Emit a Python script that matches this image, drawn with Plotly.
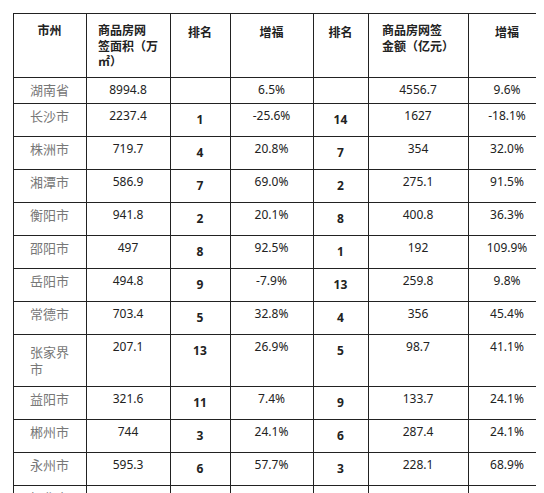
import plotly.graph_objects as go

cities = ["湖南省","长沙市","株洲市","湘潭市","衡阳市","邵阳市","岳阳市","常德市","张家界<br>市","益阳市","郴州市","永州市","怀化市","娄底市","湘西州"]
area = ["8994.8","2237.4","719.7","586.9","941.8","497","494.8","703.4","207.1","321.6","744","595.3","494.6","261.5","189.6"]
area_rank = ["","1","4","7","2","8","9","5","13","11","3","6","10","12","14"]
area_growth = ["6.5%","-25.6%","20.8%","69.0%","20.1%","92.5%","-7.9%","32.8%","26.9%","7.4%","24.1%","57.7%","0.2%","1.1%","-0.3%"]
amt_rank = ["","14","7","2","8","1","13","4","5","9","6","3","11","10","12"]
amount = ["4556.7","1627","354","275.1","400.8","192","259.8","356","98.7","133.7","287.4","228.1","183","91.1","70.1"]
amt_growth = ["9.6%","-18.1%","32.0%","91.5%","36.3%","109.9%","9.8%","45.4%","41.1%","24.1%","24.1%","68.9%","-2.0%","-4.2%","10.0%"]
headers = ["<br>市州","商品房网<br>签面积（万<br>㎡）","<br>排名","<br>增福","<br>排名","商品房网签<br>金额（亿元）","<br>增福"]

def bold(lst):
    return ["<b>%s</b>" % v if v else "" for v in lst]

fig = go.Figure(go.Table(
    columnwidth=[73,84,60,83,55,100,78],
    domain=dict(x=[5/544, 538/544], y=[0, 1-5/493]),
    header=dict(values=["<b>%s</b>" % h for h in headers],
                line=dict(color="#222", width=1), fill=dict(color="white"),
                align="center", height=52,
                font=dict(family="Noto Sans CJK SC", size=12, color="#222")),
    cells=dict(values=[cities, area, bold(area_rank), area_growth, bold(amt_rank), amount, amt_growth],
               line=dict(color="#222", width=1), fill=dict(color="white"),
               align="center", height=26,
               font=dict(family=["Noto Sans CJK SC","Noto Sans","Noto Sans","Noto Sans","Noto Sans","Noto Sans","Noto Sans"],
                         size=[13,12,12,12,12,12,12],
                         color=["#777","#222","#222","#222","#222","#222","#222"])),
))
fig.update_layout(width=544, height=493, margin=dict(l=0,r=0,t=0,b=0), paper_bgcolor="white")
fig.write_html("out.html")
